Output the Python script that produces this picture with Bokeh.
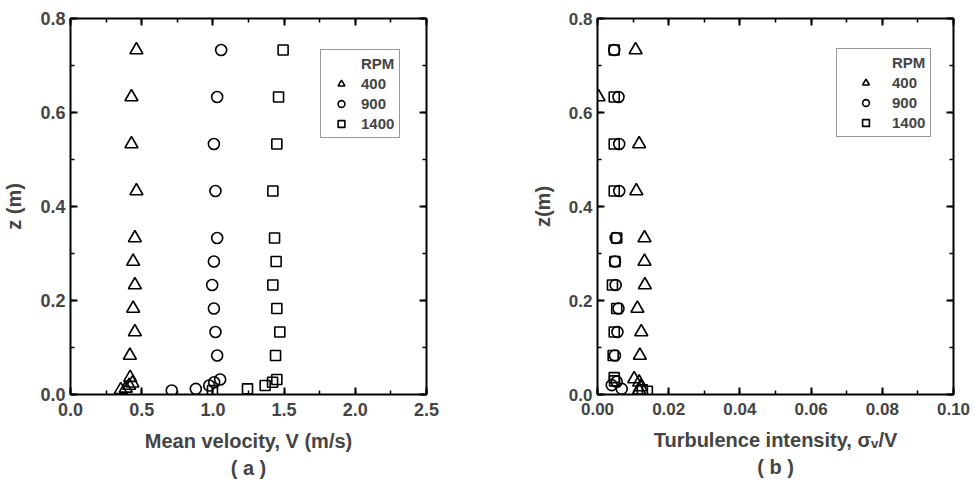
from bokeh.plotting import figure
from bokeh.models import (LinearAxis, SingleIntervalTicker, Range1d, Legend, LegendItem,
                          Title, PrintfTickFormatter)
from bokeh.layouts import row
from bokeh.embed import file_html
from bokeh.resources import INLINE

FONT = "Liberation Sans"

rpm_labels = ["400", "900", "1400"]

# ---- Panel (a): mean velocity V (m/s) vs z (m)
z_400_a = [0.733, 0.633, 0.533, 0.433, 0.333, 0.283, 0.233, 0.183, 0.133, 0.083,
           0.036, 0.024, 0.019, 0.013, 0.010]
v_400 = [0.463, 0.428, 0.428, 0.463, 0.452, 0.440, 0.452, 0.440, 0.452, 0.417,
         0.419, 0.435, 0.412, 0.388, 0.353]
z_900_a = [0.733, 0.633, 0.533, 0.433, 0.333, 0.283, 0.233, 0.183, 0.133, 0.083,
           0.032, 0.026, 0.019, 0.012, 0.0085]
v_900 = [1.058, 1.030, 1.007, 1.018, 1.030, 1.007, 0.995, 1.007, 1.018, 1.030,
         1.051, 1.009, 0.974, 0.880, 0.711]
z_1400_a = [0.733, 0.633, 0.533, 0.433, 0.333, 0.283, 0.233, 0.183, 0.133, 0.083,
            0.032, 0.026, 0.019, 0.012, 0.0085]
v_1400 = [1.493, 1.461, 1.449, 1.421, 1.433, 1.444, 1.421, 1.449, 1.470, 1.440,
          1.449, 1.419, 1.367, 1.243, 0.997]

# ---- Panel (b): turbulence intensity sigma_v / V vs z (m)
z_400_b = [0.733, 0.633, 0.533, 0.433, 0.333, 0.283, 0.233, 0.183, 0.133, 0.083,
           0.033, 0.026, 0.016, 0.009]
ti_400 = [0.0107, 0.0003, 0.0117, 0.0109, 0.0132, 0.0132, 0.0133, 0.0112, 0.0123, 0.0119,
          0.0103, 0.0117, 0.0121, 0.0117]
z_900_b = [0.733, 0.633, 0.533, 0.433, 0.333, 0.283, 0.233, 0.183, 0.133, 0.083,
           0.027, 0.020, 0.012]
ti_900 = [0.0047, 0.0059, 0.0061, 0.0061, 0.0051, 0.0049, 0.0051, 0.0059, 0.0056, 0.0049,
          0.0054, 0.0040, 0.0068]
z_1400_b = [0.733, 0.633, 0.533, 0.433, 0.333, 0.283, 0.233, 0.183, 0.133, 0.083,
            0.036, 0.029, 0.010, 0.007]
ti_1400 = [0.0047, 0.0047, 0.0047, 0.0047, 0.0054, 0.0049, 0.0042, 0.0054, 0.0047, 0.0044,
           0.0047, 0.0048, 0.0126, 0.0140]


def style_axis(ax, labels, tick_fs):
    ax.axis_line_width = 2
    ax.major_tick_line_width = 2
    ax.minor_tick_line_width = 1.5
    ax.major_tick_in = 7
    ax.major_tick_out = 0
    ax.minor_tick_in = 4
    ax.minor_tick_out = 0
    ax.major_label_text_font = FONT
    ax.major_label_text_font_style = "bold"
    ax.axis_label_text_font = FONT
    ax.axis_label_text_font_style = "bold"
    ax.axis_label_text_font_size = "20px"
    if labels:
        ax.major_label_text_font_size = tick_fs
    else:
        ax.major_label_text_font_size = "1px"
        ax.major_label_text_color = None
        ax.major_label_standoff = 0


def make_panel(xmax, xint, xfmt, series, xlabel, ylabel, sub, borders, leg_loc, gw, gstand,
               tick_fs):
    bl, br, bt, bb = borders
    p = figure(frame_width=356, frame_height=376,
               x_range=Range1d(0, xmax), y_range=Range1d(0, 0.8),
               x_axis_type=None, y_axis_type=None,
               min_border_left=bl, min_border_right=br,
               min_border_top=bt, min_border_bottom=bb,
               output_backend="svg", toolbar_location=None)
    p.outline_line_color = None
    p.background_fill_color = "white"

    for loc in ["below", "above"]:
        ax = LinearAxis(ticker=SingleIntervalTicker(interval=xint, num_minor_ticks=2),
                        formatter=PrintfTickFormatter(format=xfmt))
        style_axis(ax, loc == "below", tick_fs)
        if loc == "below":
            ax.axis_label = xlabel
            ax.major_label_standoff = 8
            ax.axis_label_standoff = 11
        p.add_layout(ax, loc)
    for loc in ["left", "right"]:
        ax = LinearAxis(ticker=SingleIntervalTicker(interval=0.2, num_minor_ticks=2),
                        formatter=PrintfTickFormatter(format="%.1f"))
        style_axis(ax, loc == "left", tick_fs)
        if loc == "left":
            ax.axis_label = ylabel
            ax.major_label_standoff = 5
            ax.axis_label_standoff = 12
        p.add_layout(ax, loc)

    p.add_layout(Title(text=sub, align="center", text_font=FONT, text_font_size="20px",
                       text_font_style="bold", standoff=0, offset=0), "below")

    dummy = p.scatter(x=[], y=[], marker="circle", fill_alpha=0, line_alpha=0)
    items = [LegendItem(label="RPM", renderers=[dummy])]
    markers = ["triangle", "circle", "square"]
    sizes = [13, 11, 10]
    for (xs, zs), m, s, lab in zip(series, markers, sizes, rpm_labels):
        r = p.scatter(x=xs, y=zs, marker=m, size=s, fill_color=None,
                      line_color="black", line_width=1.6)
        items.append(LegendItem(label=lab, renderers=[r]))

    leg = Legend(items=items, location=leg_loc, padding=5, spacing=3, margin=0,
                 label_height=17, glyph_height=17, glyph_width=gw, label_standoff=gstand,
                 label_text_font=FONT, label_text_font_size="15px",
                 label_text_font_style="bold",
                 border_line_color="#333333", border_line_width=1,
                 background_fill_color="white", background_fill_alpha=1)
    p.add_layout(leg, "center")
    return p


p1 = make_panel(2.5, 0.5, "%.1f",
                [(v_400, z_400_a), (v_900, z_900_a), (v_1400, z_1400_a)],
                "Mean velocity, V (m/s)", "z (m)", "( a )",
                (68, 63, 18, 89), (250, 256), 30, 5, "18px")
p2 = make_panel(0.10, 0.02, "%.2f",
                [(ti_400, z_400_b), (ti_900, z_900_b), (ti_1400, z_1400_b)],
                "Turbulence intensity, σᵥ/V", "z(m)", "( b )",
                (108, 22, 16, 91), (239, 257), 47, 3, "17px")

layout = row(p1, p2)
open("out.html", "w").write(file_html(layout, INLINE))
